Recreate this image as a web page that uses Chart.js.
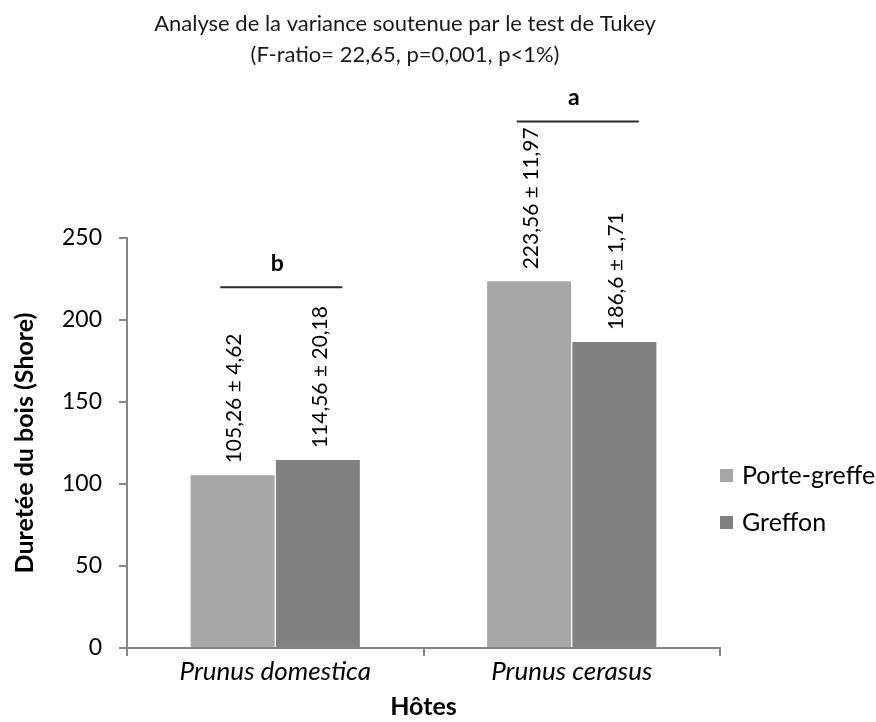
<!DOCTYPE html>
<html>
<head>
<meta charset="utf-8">
<script src="https://cdn.jsdelivr.net/npm/chart.js@4/dist/chart.umd.min.js"></script>
<style>
  html, body { margin: 0; padding: 0; background: #fff; }
  #wrap { width: 876px; height: 722px; }
</style>
</head>
<body>
<div id="wrap"><canvas id="c" width="876" height="722"></canvas></div>
<script>
// Host species on the x axis
const categories = ['Prunus domestica', 'Prunus cerasus'];
// Mean wood hardness (Shore) per host, for rootstock and scion
const porteGreffe = [105.26, 223.56];
const greffon = [114.56, 186.6];
// Standard deviations shown next to each mean
const porteGreffeSd = ['4,62', '11,97'];
const greffonSd = ['20,18', '1,71'];
// Tukey groups per host
const tukeyGroups = ['b', 'a'];
// Y axis ticks
const yTicks = [0, 50, 100, 150, 200, 250];
const titleLines = [
  'Analyse de la variance soutenue par le test de Tukey',
  '(F-ratio= 22,65, p=0,001, p<1%)'
];

const FONT = 'Lato, "Open Sans", sans-serif';
const AXIS_GREY = '#868686';

function fmt(v) { return String(v).replace('.', ','); }

const annotations = {
  id: 'annotations',
  afterDatasetsDraw(chart, args, opts) {
    const ctx = chart.ctx;
    const x = chart.scales.x, y = chart.scales.y;
    ctx.save();

    // Title
    ctx.fillStyle = '#1a1a1a';
    ctx.font = '22px ' + FONT;
    ctx.textAlign = 'center';
    ctx.textBaseline = 'middle';
    titleLines.forEach((t, i) => ctx.fillText(t, 405, 24 + i * 31));

    // Mean ± sd labels, rotated, above each bar
    const sds = [porteGreffeSd, greffonSd];
    chart.data.datasets.forEach((ds, di) => {
      const meta = chart.getDatasetMeta(di);
      meta.data.forEach((bar, i) => {
        ctx.save();
        ctx.translate(bar.x + 2, bar.y - 12);
        ctx.rotate(-Math.PI / 2);
        ctx.font = '21px ' + FONT;
        ctx.fillStyle = '#000';
        ctx.textAlign = 'left';
        ctx.textBaseline = 'middle';
        ctx.fillText(fmt(ds.data[i]) + ' \u00b1 ' + sds[di][i], 0, 0);
        ctx.restore();
      });
    });

    // Tukey group bars and letters
    tukeyGroups.forEach((g, i) => {
      const cx = x.getPixelForValue(i);
      const ly = y.getPixelForValue(opts.levels[i]);
      ctx.strokeStyle = '#2b2b2b';
      ctx.lineWidth = 2;
      ctx.beginPath();
      ctx.moveTo(cx - 55, ly);
      ctx.lineTo(cx + 67, ly);
      ctx.stroke();
      ctx.fillStyle = '#000';
      ctx.font = 'bold 23px ' + FONT;
      ctx.textAlign = 'center';
      ctx.textBaseline = 'middle';
      ctx.fillText(g, cx + 2, ly - 24);
    });

    // Legend
    ctx.font = '25px ' + FONT;
    ctx.textAlign = 'left';
    ctx.textBaseline = 'middle';
    chart.data.datasets.forEach((ds, di) => {
      const cy = 476 + di * 47;
      ctx.fillStyle = ds.backgroundColor;
      ctx.fillRect(720, cy - 7, 13, 13);
      ctx.fillStyle = '#000';
      ctx.fillText(ds.label, 742, cy);
    });
    ctx.restore();
  }
};

new Chart(document.getElementById('c'), {
  type: 'bar',
  data: {
    labels: categories,
    datasets: [
      { label: 'Porte-greffe', data: porteGreffe, backgroundColor: '#a6a6a6' },
      { label: 'Greffon', data: greffon, backgroundColor: '#808080' }
    ]
  },
  options: {
    responsive: false,
    devicePixelRatio: 1,
    animation: false,
    categoryPercentage: 0.575,
    barPercentage: 0.985,
    layout: { padding: { top: 238, right: 156, left: 0, bottom: 0 } },
    plugins: {
      legend: { display: false },
      title: { display: false },
      tooltip: { enabled: false },
      annotations: { levels: [220, 321] }
    },
    scales: {
      x: {
        afterFit(s) { s.height = 74; },
        grid: { drawOnChartArea: false, tickLength: 8, color: AXIS_GREY, lineWidth: 2, offset: true },
        border: { color: AXIS_GREY, width: 2 },
        ticks: { color: '#000', padding: 0, font: { family: FONT, size: 26, style: 'italic' } },
        title: {
          display: true, text: 'Hôtes', color: '#000',
          font: { family: FONT, size: 25, weight: 'bold' },
          padding: { top: 0, bottom: 0 }
        }
      },
      y: {
        min: 0, max: 250,
        afterFit(s) { s.width = 127; },
        afterBuildTicks(s) { s.ticks = yTicks.map(v => ({ value: v })); },
        grid: { drawOnChartArea: false, tickLength: 8, color: AXIS_GREY, lineWidth: 2 },
        border: { color: AXIS_GREY, width: 2 },
        ticks: { color: '#000', padding: 17, font: { family: FONT, size: 23 } },
        title: {
          display: true, text: 'Duretée du bois (Shore)', color: '#000',
          font: { family: FONT, size: 25, weight: 'bold' },
          padding: { top: 10, bottom: 0 }
        }
      }
    }
  },
  plugins: [annotations]
});
</script>
</body>
</html>
